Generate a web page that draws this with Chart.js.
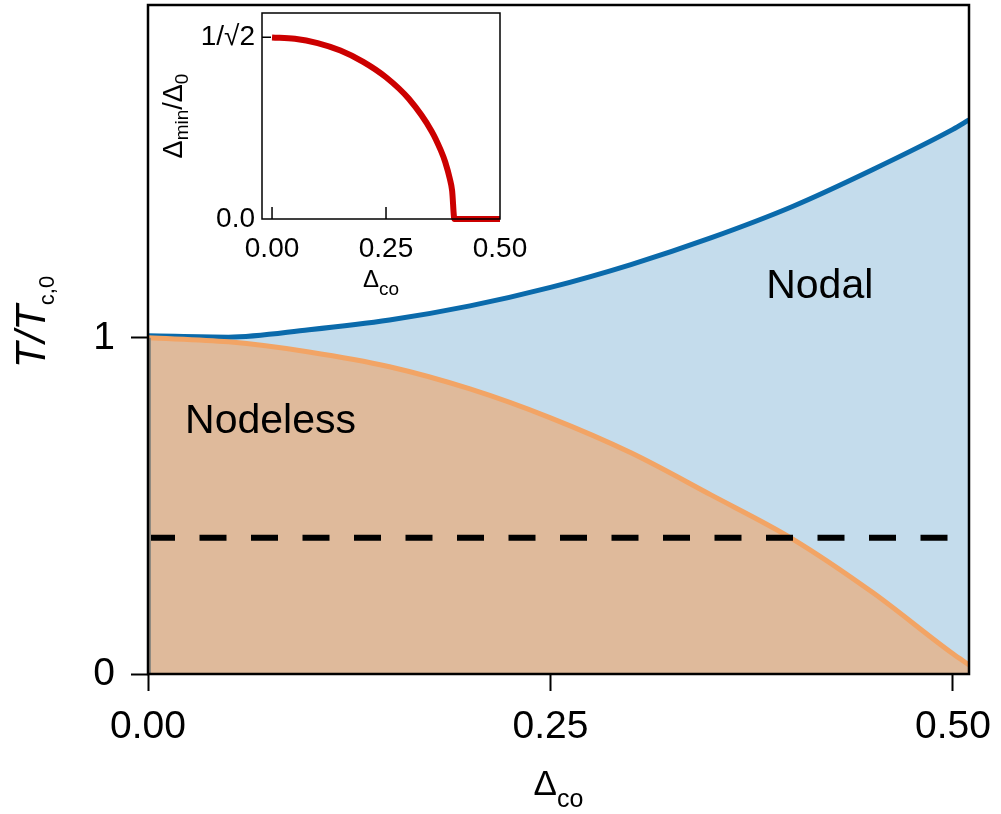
<!DOCTYPE html>
<html>
<head>
<meta charset="utf-8">
<script src="https://cdn.jsdelivr.net/npm/chart.js@4"></script>
<style>
  html, body { margin: 0; padding: 0; background: #fff; overflow: hidden; }
  #wrap { position: relative; width: 1001px; height: 814px; }
  #main { position: absolute; left: 0; top: 0; }
  #inset { position: absolute; left: 160px; top: 0; }
</style>
</head>
<body>
<div id="wrap">
  <canvas id="main" width="1001" height="814"></canvas>
  <canvas id="inset" width="390" height="300"></canvas>
</div>
<script>
// main panel: T/Tc,0 against Δco
const deltaCo   = [0, 0.05, 0.10, 0.15, 0.20, 0.25, 0.30, 0.35, 0.40, 0.45, 0.50, 0.51];
const tNodal    = [1.006, 1.002, 1.024, 1.053, 1.095, 1.150, 1.218, 1.298, 1.390, 1.500, 1.620, 1.648];
const tNodeless = [1.000, 0.988, 0.958, 0.914, 0.848, 0.762, 0.658, 0.532, 0.403, 0.243, 0.060, 0.027];
const dashLevel = 0.405;
const xTicks = [0, 0.25, 0.5];
const yTicks = [0, 1];

// inset: Δmin/Δ0 against Δco
const insetX   = [0, 0.05, 0.10, 0.15, 0.20, 0.25, 0.30, 0.35, 0.37, 0.38, 0.39, 0.395, 0.40, 0.45, 0.50];
const insetMin = [0.707, 0.702, 0.685, 0.656, 0.612, 0.552, 0.468, 0.342, 0.268, 0.221, 0.156, 0.110, 0, 0, 0];
const insetXTicks = [0, 0.25, 0.5];
const insetYTicks = [0, Math.SQRT1_2];

const FONT = '"Liberation Sans", Arial, Helvetica, sans-serif';

function pts(xs, ys) {
  return xs.map((x, i) => ({ x: x, y: ys[i] }));
}

// fixed axis size, no extra room for edge labels
function fixSize(w, h) {
  return s => {
    if (w != null) s.width = w;
    if (h != null) s.height = h;
    s.paddingTop = 0; s.paddingBottom = 0; s.paddingLeft = 0; s.paddingRight = 0;
  };
}

// draw a label made of pieces: [text, size, italic, baselineShift]
function drawPieces(ctx, pieces, cx, baseY) {
  let total = 0;
  pieces.forEach(p => {
    ctx.font = (p[2] ? 'italic ' : '') + p[1] + 'px ' + FONT;
    p.w = ctx.measureText(p[0]).width;
    total += p.w;
  });
  let x = cx - total / 2;
  ctx.textAlign = 'left';
  ctx.textBaseline = 'alphabetic';
  pieces.forEach(p => {
    ctx.font = (p[2] ? 'italic ' : '') + p[1] + 'px ' + FONT;
    ctx.fillText(p[0], x, baseY + p[3]);
    x += p.w;
  });
}

const mainDecor = {
  id: 'mainDecor',
  afterDatasetsDraw(chart) {
    const { ctx, chartArea: a, scales } = chart;
    ctx.save();
    // grey fill edge at the left
    ctx.fillStyle = '#908a80';
    ctx.fillRect(a.left, scales.y.getPixelForValue(1), 3, a.bottom - scales.y.getPixelForValue(1));
    // frame
    ctx.strokeStyle = '#000';
    ctx.lineWidth = 2.5;
    ctx.strokeRect(a.left, a.top, a.right - a.left, a.bottom - a.top);
    // phase labels
    ctx.fillStyle = '#000';
    ctx.font = '41px ' + FONT;
    ctx.textAlign = 'left';
    ctx.textBaseline = 'alphabetic';
    ctx.fillText('Nodeless', scales.x.getPixelForValue(0.023), scales.y.getPixelForValue(0.717));
    ctx.fillText('Nodal', scales.x.getPixelForValue(0.384), scales.y.getPixelForValue(1.119));
    // x title
    drawPieces(ctx, [['Δ', 35, false, 0], ['co', 25, false, 12]], (a.left + a.right) / 2, 795);
    // y title
    ctx.translate(45, 322);
    ctx.rotate(-Math.PI / 2);
    drawPieces(ctx, [['T/T', 42, true, 0], ['c,0', 22, false, 9]], 0, 0);
    ctx.restore();
  }
};

new Chart(document.getElementById('main'), {
  type: 'line',
  data: {
    datasets: [
      {
        label: 'dash',
        data: pts([0, 0.51], [dashLevel, dashLevel]),
        borderColor: '#000',
        borderWidth: 6,
        borderDash: [27, 24.5],
        pointRadius: 0,
        fill: false
      },
      {
        label: 'Nodeless',
        data: pts(deltaCo, tNodeless),
        borderColor: '#f2a465',
        backgroundColor: '#dfba9b',
        borderWidth: 5,
        pointRadius: 0,
        cubicInterpolationMode: 'monotone',
        fill: 'origin'
      },
      {
        label: 'Nodal',
        data: pts(deltaCo, tNodal),
        borderColor: '#0a6aab',
        backgroundColor: '#c4dcec',
        borderWidth: 5,
        pointRadius: 0,
        cubicInterpolationMode: 'monotone',
        fill: 'origin'
      }
    ]
  },
  options: {
    responsive: false,
    animation: false,
    layout: { padding: { top: 5, right: 32, left: 0, bottom: 0 } },
    plugins: {
      legend: { display: false },
      tooltip: { enabled: false },
      filler: { drawTime: 'beforeDatasetsDraw' }
    },
    scales: {
      x: {
        type: 'linear',
        min: 0,
        max: 0.51,
        afterBuildTicks: s => { s.ticks = xTicks.map(v => ({ value: v })); },
        afterFit: fixSize(null, 140),
        grid: { drawOnChartArea: false, tickLength: 17, tickWidth: 2, tickColor: '#000' },
        border: { display: false },
        ticks: {
          color: '#000',
          padding: 13,
          font: { family: FONT, size: 39 },
          callback: v => v.toFixed(2)
        }
      },
      y: {
        type: 'linear',
        min: 0,
        max: 1.99,
        afterBuildTicks: s => { s.ticks = yTicks.map(v => ({ value: v })); },
        afterFit: fixSize(148, null),
        grid: { drawOnChartArea: false, tickLength: 17, tickWidth: 2, tickColor: '#000' },
        border: { display: false },
        ticks: {
          color: '#000',
          padding: 16,
          font: { family: FONT, size: 39 },
          callback: v => String(v)
        }
      }
    }
  },
  plugins: [mainDecor]
});

const insetDecor = {
  id: 'insetDecor',
  afterDatasetsDraw(chart) {
    const { ctx, chartArea: a, scales } = chart;
    ctx.save();
    ctx.strokeStyle = '#000';
    ctx.lineWidth = 1.5;
    ctx.strokeRect(a.left, a.top, a.right - a.left, a.bottom - a.top);
    // inward ticks
    ctx.beginPath();
    [0, 0.25].forEach(v => {
      const px = scales.x.getPixelForValue(v);
      ctx.moveTo(px, a.bottom);
      ctx.lineTo(px, a.bottom - 12);
    });
    const py = scales.y.getPixelForValue(Math.SQRT1_2);
    ctx.moveTo(a.left, py);
    ctx.lineTo(a.left + 9, py);
    ctx.stroke();
    ctx.fillStyle = '#000';
    // x title
    drawPieces(ctx, [['Δ', 24, false, 0], ['co', 19, false, 8]], (a.left + a.right) / 2, 287);
    // y title
    ctx.translate(22, (a.top + a.bottom) / 2);
    ctx.rotate(-Math.PI / 2);
    drawPieces(ctx, [['Δ', 27, false, 0], ['min', 19, false, 6], ['/', 27, false, 0], ['Δ', 27, false, 0], ['0', 19, false, 6]], 0, 0);
    ctx.restore();
  }
};

new Chart(document.getElementById('inset'), {
  type: 'line',
  data: {
    datasets: [{
      label: 'Δmin/Δ0',
      data: pts(insetX, insetMin),
      borderColor: '#cc0000',
      borderWidth: 6,
      pointRadius: 0,
      cubicInterpolationMode: 'monotone',
      fill: false,
      clip: false
    }]
  },
  options: {
    responsive: false,
    animation: false,
    layout: { padding: { top: 13, right: 50, left: 0, bottom: 0 } },
    plugins: {
      legend: { display: false },
      tooltip: { enabled: false }
    },
    scales: {
      x: {
        type: 'linear',
        min: -0.022,
        max: 0.5,
        afterBuildTicks: s => { s.ticks = insetXTicks.map(v => ({ value: v })); },
        afterFit: fixSize(null, 81),
        grid: { display: false, drawTicks: false },
        border: { display: false },
        ticks: {
          color: '#000',
          padding: 13,
          font: { family: FONT, size: 28 },
          callback: v => v.toFixed(2)
        }
      },
      y: {
        type: 'linear',
        min: 0,
        max: 0.802,
        afterBuildTicks: s => { s.ticks = insetYTicks.map(v => ({ value: v })); },
        afterFit: fixSize(102, null),
        grid: { display: false, drawTicks: false },
        border: { display: false },
        ticks: {
          color: '#000',
          padding: 7,
          font: { family: FONT, size: 28 },
          callback: v => (v === 0 ? '0.0' : '1/√2')
        }
      }
    }
  },
  plugins: [insetDecor]
});
</script>
</body>
</html>
